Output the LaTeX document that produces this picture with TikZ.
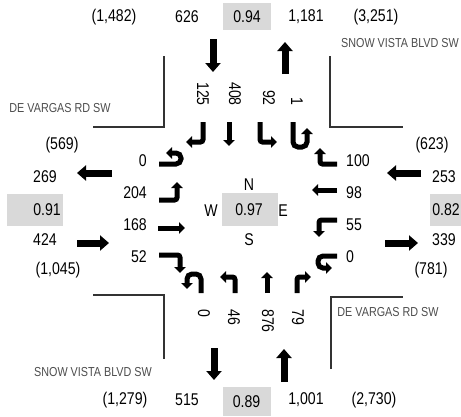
\documentclass[tikz,border=0pt]{standalone}
\usepackage{fontspec}
\setmainfont{Liberation Sans}[FakeStretch=0.83]
\usepackage{xcolor}
\usetikzlibrary{arrows.meta}
\definecolor{boxgray}{HTML}{D9D9D9}
\definecolor{curb}{HTML}{333333}
\definecolor{streetgray}{HTML}{4D4D4D}
\tikzset{
  mv/.style       = {line width=5pt, -{Triangle[length=6pt,width=11.5pt]},
                     rounded corners=2.5pt},
  uturn/.style    = {mv, rounded corners=5pt},
  flow/.style     = {line width=7pt, -{Triangle[length=9pt,width=15pt]}},
  curbline/.style = {curb, line width=2pt},
  street/.style   = {streetgray, font=\fontsize{13}{15}\selectfont},
  vcbox/.style    = {fill=boxgray, minimum width=48pt, minimum height=27pt, inner sep=0pt},
  lanenum/.style  = {inner sep=0pt},
}

\begin{document}
\begin{tikzpicture}[x=1pt,y=-1pt,font=\fontsize{17}{19}\selectfont]
\useasboundingbox (0,0) rectangle (461,416);
% curbs and street names
\draw[curbline] (164,56) -- (164,127) -- (93,127);
\draw[curbline] (330,56) -- (330,127) -- (403,127);
\draw[curbline] (93,295) -- (164,295) -- (164,359);
\draw[curbline] (331,369) -- (331,297) -- (403,297);
\node[street] (stnw) at (60,108) {DE VARGAS RD SW};
\node[street] (stne) at (400,43) {SNOW VISTA BLVD SW};
\node[street] (stse) at (388,312) {DE VARGAS RD SW};
\node[street] (stsw) at (93,372) {SNOW VISTA BLVD SW};
% north leg
\node (nwadt) at (114,17) {(1,482)};
\node (sbin) at (187,17) {626};
\node[vcbox] (vcn) at (247,16.5) {0.94};
\node (nbout) at (306,17) {1,181};
\node (neadt) at (376,17) {(3,251)};
\draw[flow] (213,39) -- (213,72);
\draw[flow] (285,74) -- (285,42);
% south leg
\node (swadt) at (125,400) {(1,279)};
\node (sbout) at (187,400) {515};
\node[vcbox, minimum height=29pt] (vcs) at (246.5,401.5) {0.89};
\node (nbin) at (306,400) {1,001};
\node (seadt) at (374,400) {(2,730)};
\draw[flow] (214,348) -- (214,380);
\draw[flow] (284,382) -- (284,349);
% west leg
\node (wnadt) at (62,145) {(569)};
\node (wbout) at (45,177) {269};
\fill[boxgray] (7,194) rectangle (63,226);
\node (vcw) at (47,210) {0.91};
\node (ebin) at (45,240) {424};
\node (wsadt) at (58,270) {(1,045)};
\draw[flow] (112,173) -- (77,173);
\draw[flow] (77,243) -- (109,243);
% east leg
\node (enadt) at (432,145) {(623)};
\node (wbin) at (444,177) {253};
\fill[boxgray] (430,194) rectangle (461,226);
\node (vce) at (446,210) {0.82};
\node (ebout) at (444,240) {339};
\node (esadt) at (431,270) {(781)};
\draw[flow] (421,173) -- (387,173);
\draw[flow] (385,243) -- (418,243);
% intersection
\node (nlbl) at (249,185) {N};
\fill[boxgray] (222,193) rectangle (278,226);
\node (vcx) at (249,210) {0.97};
\node (wlbl) at (211,211) {W};
\node (elbl) at (283,211) {E};
\node (slbl) at (249,240) {S};
% eastbound lanes
\node[lanenum, anchor=east] (ebu) at (147,161) {0};
\node[lanenum, anchor=east] (ebl) at (147,193) {204};
\node[lanenum, anchor=east] (ebt) at (147,225) {168};
\node[lanenum, anchor=east] (ebr) at (147,257) {52};
\draw[uturn] (159,164) -- (181,164) -- (181,153) -- (166,153);
\draw[mv] (159,200) -- (177,200) -- (177,182);
\draw[mv] (158,228) -- (185,228);
\draw[mv] (159,255) -- (180,255) -- (180,273);
% westbound lanes
\node[lanenum, anchor=west] (wbr) at (346,161) {100};
\node[lanenum, anchor=west] (wbt) at (346,193) {98};
\node[lanenum, anchor=west] (wbl) at (346,225) {55};
\node[lanenum, anchor=west] (wbu) at (346,257) {0};
\draw[mv] (337,164) -- (320,164) -- (320,148);
\draw[mv] (337,190) -- (312,190);
\draw[mv] (337,220) -- (319,220) -- (319,237);
\draw[uturn] (337,256) -- (318,256) -- (318,268) -- (332,268);
% southbound lanes
\node[lanenum, rotate=-90, anchor=east] (sbr) at (203,106) {125};
\node[lanenum, rotate=-90, anchor=east] (sbt) at (235,106) {408};
\node[lanenum, rotate=-90, anchor=east] (sbl) at (269,106) {92};
\node[lanenum, rotate=-90, anchor=east] (sbu) at (297,106) {1};
\draw[mv] (203,122) -- (203,142) -- (186,142);
\draw[mv] (229,122) -- (229,146);
\draw[mv] (260,122) -- (260,142) -- (277,142);
\draw[uturn] (293,122) -- (293,147) -- (307,147) -- (307,128);
% northbound lanes
\node[lanenum, rotate=-90, anchor=west] (nbu) at (204,309) {0};
\node[lanenum, rotate=-90, anchor=west] (nbl) at (234,309) {46};
\node[lanenum, rotate=-90, anchor=west] (nbt) at (268,309) {876};
\node[lanenum, rotate=-90, anchor=west] (nbr) at (298,309) {79};
\draw[uturn] (201,293) -- (201,274) -- (187,274) -- (187,289);
\draw[mv] (235,293) -- (235,277) -- (220,277);
\draw[mv] (267,293) -- (267,272);
\draw[mv] (297,293) -- (297,277) -- (311,277);
\end{tikzpicture}
\end{document}
